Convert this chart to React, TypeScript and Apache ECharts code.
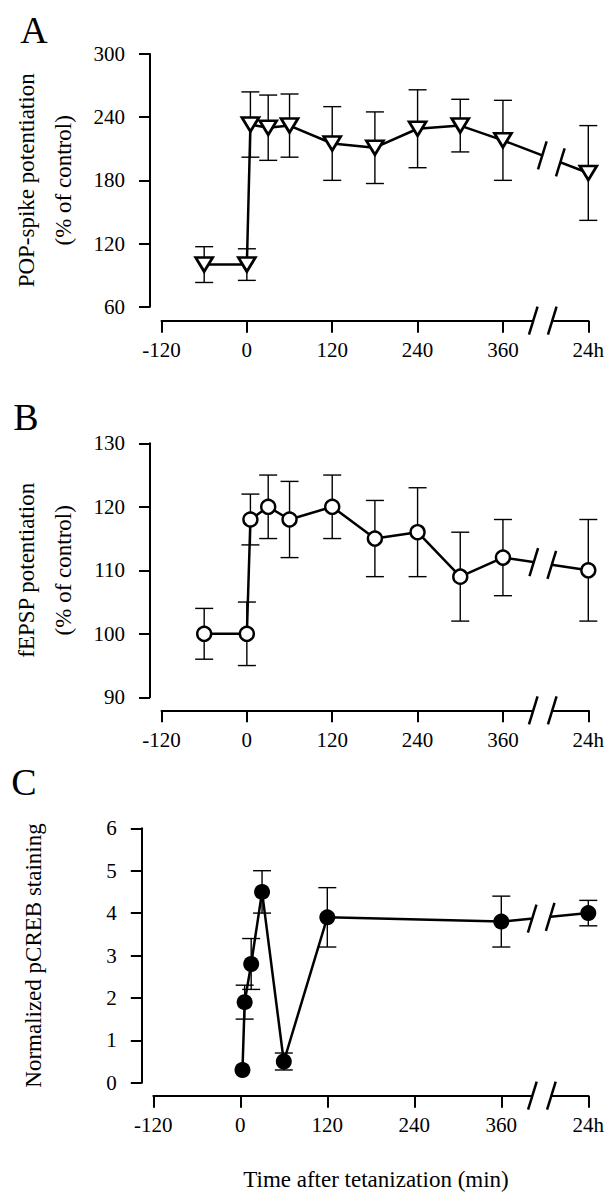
import React, { useEffect, useRef } from "react";
import * as echarts from "echarts";

// ---- data ----
const xTickValues = [-120, 0, 120, 240, 360, 480];
const xTickLabels = ["-120", "0", "120", "240", "360", "24h"];

const popTime = [-60, 0, 5, 30, 60, 120, 180, 240, 300, 360, 480];
const popMean = [100, 100, 233, 230, 232, 215, 211, 229, 232, 218, 187];
const popSem = [17, 15, 31, 31, 30, 35, 34, 37, 25, 38, 45];

const epspTime = [-60, 0, 5, 30, 60, 120, 180, 240, 300, 360, 480];
const epspMean = [100, 100, 118, 120, 118, 120, 115, 116, 109, 112, 110];
const epspSem = [4, 5, 4, 5, 6, 5, 6, 7, 7, 6, 8];

const pcrebTime = [3, 6, 15, 30, 60, 120, 360, 480];
const pcrebMean = [0.3, 1.9, 2.8, 4.5, 0.5, 3.9, 3.8, 4.0];
const pcrebSem = [0, 0.4, 0.6, 0.5, 0.2, 0.7, 0.6, 0.3];

const panelLetters = ["A", "B", "C"];
const yNames = [
  "POP-spike potentiation\n(% of control)",
  "fEPSP potentiation\n(% of control)",
  "Normalized pCREB staining",
];
const xTitle = "Time after tetanization (min)";

const FONT = "Liberation Serif";
const AXIS_BREAK = 416;

type Panel = {
  top: number; height: number; min: number; max: number; interval: number;
  xOffset: number; nameGap: number; t: number[]; m: number[]; e: number[];
  symbol: string; symbolSize: any; symbolRotate: number; fill: string; border: number;
  dataBreak: number;
};

const panels: Panel[] = [
  { top: 54, height: 252.7, min: 60, max: 300, interval: 60, xOffset: 14, nameGap: 68,
    t: popTime, m: popMean, e: popSem, symbol: "triangle", symbolSize: [17, 14], symbolRotate: 180,
    fill: "#fff", border: 2.7, dataBreak: 428 },
  { top: 443.3, height: 254, min: 90, max: 130, interval: 10, xOffset: 13, nameGap: 68,
    t: epspTime, m: epspMean, e: epspSem, symbol: "circle", symbolSize: 14, symbolRotate: 0,
    fill: "#fff", border: 2.4, dataBreak: 416 },
  { top: 828.3, height: 254.4, min: 0, max: 6, interval: 1, xOffset: 13, nameGap: 90,
    t: pcrebTime, m: pcrebMean, e: pcrebSem, symbol: "circle", symbolSize: 16, symbolRotate: 0,
    fill: "#000", border: 0, dataBreak: 415 },
];

function slash(cx: number, cy: number) {
  return {
    type: "line",
    shape: { x1: cx + 4.3, y1: cy - 14, x2: cx - 4.3, y2: cy + 14 },
    style: { stroke: "#000", lineWidth: 2.5 },
  };
}

export default function App() {
  const ref = useRef<HTMLDivElement>(null);
  useEffect(() => {
    if (!ref.current) return;
    const chart = echarts.init(ref.current, undefined, { renderer: "svg" });

    const grids: any[] = [];
    const xAxes: any[] = [];
    const yAxes: any[] = [];
    const series: any[] = [];

    panels.forEach((p, i) => {
      grids.push({ left: 153.3, width: 435, top: p.top, height: p.height, containLabel: false });
      xAxes.push({
        gridIndex: i, type: "value", min: -120, max: 480, interval: 120, offset: p.xOffset,
        axisLine: { show: true, onZero: false, lineStyle: { color: "#000", width: 2 } },
        axisTick: { show: true, length: 12, lineStyle: { color: "#000", width: 2 } },
        axisLabel: {
          margin: 19, fontFamily: FONT, fontSize: 21, color: "#000",
          formatter: (v: number) => {
            const k = xTickValues.indexOf(v);
            return k >= 0 ? xTickLabels[k] : "";
          },
        },
        splitLine: { show: false },
      });
      yAxes.push({
        gridIndex: i, type: "value", min: p.min, max: p.max, interval: p.interval, offset: 11.5,
        axisLine: { show: true, onZero: false, lineStyle: { color: "#000", width: 2 } },
        axisTick: { show: true, length: 11, lineStyle: { color: "#000", width: 2 } },
        axisLabel: { margin: 25, fontFamily: FONT, fontSize: 21, color: "#000" },
        splitLine: { show: false },
        name: yNames[i], nameLocation: "middle", nameRotate: 90, nameGap: p.nameGap,
        nameTextStyle: { fontFamily: FONT, fontSize: 23, lineHeight: 37, color: "#000" },
      });

      // error bars
      series.push({
        type: "custom", xAxisIndex: i, yAxisIndex: i, z: 2, silent: true, clip: false,
        data: p.t.map((x, k) => [x, p.m[k] - p.e[k], p.m[k] + p.e[k]]),
        encode: { x: 0, y: [1, 2] },
        renderItem: (_params: any, api: any) => {
          const x = api.value(0), lo = api.value(1), hi = api.value(2);
          if (!(hi - lo > 0)) return { type: "group", children: [] };
          const a = api.coord([x, lo]);
          const b = api.coord([x, hi]);
          const hw = 9;
          const st = { stroke: "#000", lineWidth: 1.4 };
          return {
            type: "group",
            children: [
              { type: "line", shape: { x1: a[0], y1: a[1], x2: b[0], y2: b[1] }, style: st },
              { type: "line", shape: { x1: a[0] - hw, y1: a[1], x2: a[0] + hw, y2: a[1] }, style: st },
              { type: "line", shape: { x1: b[0] - hw, y1: b[1], x2: b[0] + hw, y2: b[1] }, style: st },
            ],
          };
        },
      });

      // data line with markers
      series.push({
        type: "line", xAxisIndex: i, yAxisIndex: i, z: 3,
        data: p.t.map((x, k) => [x, p.m[k]]),
        symbol: p.symbol, symbolSize: p.symbolSize, symbolRotate: p.symbolRotate,
        showSymbol: true,
        itemStyle: { color: p.fill, borderColor: "#000", borderWidth: p.border },
        lineStyle: { color: "#000", width: 2.5 },
        emphasis: { disabled: true },
        silent: true,
      });

      // breaks (data line + x axis)
      series.push({
        type: "custom", xAxisIndex: i, yAxisIndex: i, z: 6, silent: true, clip: false,
        data: [[p.dataBreak, p.min]],
        renderItem: (_params: any, api: any) => {
          const n = p.t.length;
          const p1 = api.coord([p.t[n - 2], p.m[n - 2]]);
          const p2 = api.coord([p.t[n - 1], p.m[n - 1]]);
          const cx = api.coord([p.dataBreak, p.min])[0];
          const half = 9;
          const yAt = (x: number) => p1[1] + ((p2[1] - p1[1]) * (x - p1[0])) / (p2[0] - p1[0]);
          const xa = cx - half, xb = cx + half;
          const ya = yAt(xa), yb = yAt(xb);
          const axc = api.coord([AXIS_BREAK, p.min]);
          const axX = axc[0];
          const axY = axc[1] + p.xOffset;
          const ah = 9.5;
          return {
            type: "group",
            children: [
              { type: "line", shape: { x1: xa, y1: ya, x2: xb, y2: yb }, style: { stroke: "#fff", lineWidth: 7 } },
              slash(xa, ya),
              slash(xb, yb),
              { type: "rect", shape: { x: axX - ah, y: axY - 4, width: ah * 2, height: 8 }, style: { fill: "#fff" } },
              slash(axX - ah, axY),
              slash(axX + ah, axY),
            ],
          };
        },
      });
    });

    const letterPos = [[34, 30], [26, 417], [24, 782]];
    const graphics: any[] = panelLetters.map((L, i) => ({
      type: "text", x: letterPos[i][0], y: letterPos[i][1], z: 10,
      style: { text: L, fontFamily: FONT, fontSize: 38, fill: "#000", align: "center", verticalAlign: "middle" },
    }));
    graphics.push({
      type: "text", x: 376, y: 1179, z: 10,
      style: { text: xTitle, fontFamily: FONT, fontSize: 23, fill: "#000", align: "center", verticalAlign: "middle" },
    });

    chart.setOption({
      animation: false,
      backgroundColor: "#fff",
      textStyle: { fontFamily: FONT },
      grid: grids,
      xAxis: xAxes,
      yAxis: yAxes,
      series,
      graphic: graphics,
    });
    return () => chart.dispose();
  }, []);

  return (
    <div
      ref={ref}
      style={{ position: "absolute", left: 0, top: 0, width: 616, height: 1199, background: "#fff" }}
    />
  );
}
